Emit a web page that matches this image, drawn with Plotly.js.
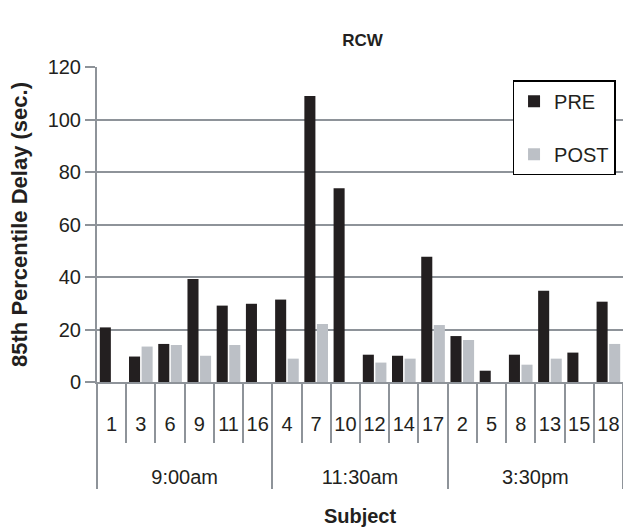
<!DOCTYPE html>
<html><head><meta charset="utf-8">
<script src="https://cdn.plot.ly/plotly-3.0.1.min.js"></script>
<style>html,body{margin:0;padding:0;background:#fff}#chart{width:623px;height:531px}</style>
</head><body><div id="chart"></div>
<script>
const groups = ["9:00am","9:00am","9:00am","9:00am","9:00am","9:00am",
                "11:30am","11:30am","11:30am","11:30am","11:30am","11:30am",
                "3:30pm","3:30pm","3:30pm","3:30pm","3:30pm","3:30pm"];
const subjects = ["1","3","6","9","11","16","4","7","10","12","14","17","2","5","8","13","15","18"];
const pre  = [20.8, 9.7, 14.5, 39.2, 29.1, 29.8, 31.4, 109, 73.8, 10.4, 10.0, 47.7, 17.5, 4.3, 10.4, 34.8, 11.2, 30.6];
const post = [0, 13.5, 14.1, 10.0, 14.1, 0, 8.9, 22.1, 0, 7.4, 8.9, 21.7, 16.0, 0, 6.6, 8.9, 0, 14.5];

// subject labels padded with blank lines so the group row sits lower (as in the reference)
const subjectLabels = subjects.map(s => s + "<br>\u00a0<br>\u00a0");

const font = "Liberation Sans, Arial, Helvetica, sans-serif";
const gridc = "#8e9399";
const traces = [
  {type:"bar", name:"PRE", x:[groups, subjectLabels], y:pre, marker:{color:"#231f20"}, legendgroup:"a"},
  {type:"bar", name:"POST", x:[groups, subjectLabels], y:post, marker:{color:"#bcc0c6"}, legendgroup:"b"}
];
const layout = {
  width:623, height:531,
  margin:{l:97, r:0, t:67, b:149},
  paper_bgcolor:"#fff", plot_bgcolor:"#fff",
  font:{family:font, color:"#231f20", size:20},
  title:{text:"<b>RCW</b>", font:{size:17, family:font, color:"#231f20"}, x:0.582, xanchor:"center", y:0.925, yanchor:"middle"},
  barmode:"group", bargap:0.14, bargroupgap:0.12,
  showlegend:true,
  legend:{x:0.79, xanchor:"left", y:0.958, yanchor:"top", bgcolor:"#fff", bordercolor:"#000", borderwidth:1.5,
          font:{size:20, family:font}, traceorder:"grouped", tracegroupgap:24},
  xaxis:{type:"multicategory", showline:true, linecolor:gridc, linewidth:2,
         ticks:"outside", tickson:"boundaries", ticklen:59, tickcolor:gridc, tickwidth:2,
         tickangle:0, ticklabelstandoff:23,
         showdividers:true, dividercolor:gridc, dividerwidth:2,
         tickfont:{size:20, family:font, color:"#231f20"},
         title:{text:"<b>Subject</b>", font:{size:20, family:font}, standoff:22},
         showgrid:false, zeroline:false},
  yaxis:{range:[0,120], dtick:20, showgrid:true, gridcolor:gridc, gridwidth:2,
         showline:true, linecolor:gridc, linewidth:2, ticks:"outside", ticklen:10, tickcolor:gridc, tickwidth:2,
         tickfont:{size:20, family:font, color:"#231f20"}, zeroline:false,
         title:{text:"<b>85th Percentile Delay (sec.)</b>", font:{size:22, family:font}, standoff:14}}
};
Plotly.newPlot("chart", traces, layout, {displayModeBar:false, staticPlot:true});
</script></body></html>
